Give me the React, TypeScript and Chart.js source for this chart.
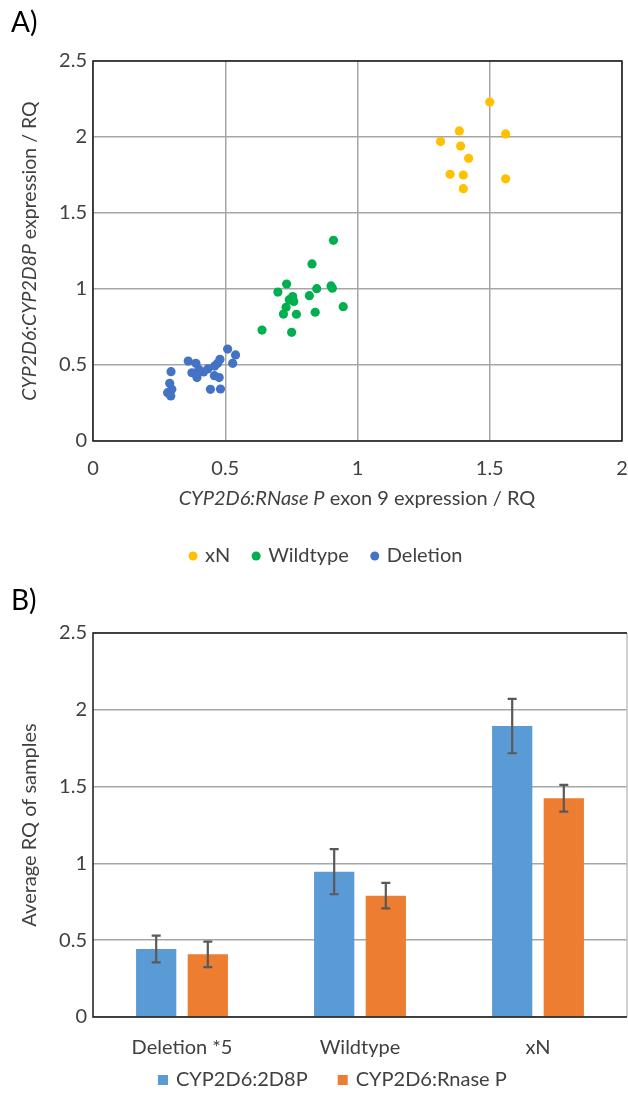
import React, { useEffect, useRef } from "react";
import { Chart, registerables } from "chart.js";

Chart.register(...registerables);

const FONT = "Lato, 'Noto Sans', sans-serif";
const TEXT = "#404040";

// ---- Panel A: scatter data ----
const xnX = [1.5, 1.385, 1.56, 1.314, 1.39, 1.42, 1.35, 1.4, 1.56, 1.4];
const xnY = [2.23, 2.04, 2.02, 1.97, 1.94, 1.86, 1.755, 1.75, 1.725, 1.66];

const wtX = [0.909, 0.828, 0.732, 0.699, 0.846, 0.9, 0.905, 0.818, 0.755, 0.742, 0.759, 0.73, 0.72, 0.769, 0.84, 0.946, 0.639, 0.751];
const wtY = [1.32, 1.165, 1.033, 0.98, 1.002, 1.02, 1.005, 0.956, 0.95, 0.93, 0.917, 0.88, 0.835, 0.834, 0.847, 0.884, 0.73, 0.715];

const delX = [0.509, 0.539, 0.48, 0.528, 0.36, 0.389, 0.471, 0.46, 0.434, 0.418, 0.4, 0.374, 0.393, 0.295, 0.459, 0.477, 0.29, 0.298, 0.282, 0.294, 0.444, 0.482];
const delY = [0.605, 0.566, 0.537, 0.511, 0.526, 0.511, 0.511, 0.493, 0.474, 0.454, 0.471, 0.449, 0.417, 0.456, 0.43, 0.417, 0.38, 0.34, 0.318, 0.296, 0.34, 0.342];

const scatterSeries = ["xN", "Wildtype", "Deletion"];
const scatterColors = ["#FFC000", "#00B050", "#4472C4"];

const yTitleA: [string, boolean][] = [["CYP2D6:CYP2D8P", true], [" expression / RQ", false]];
const xTitleA: [string, boolean][] = [["CYP2D6:RNase P", true], [" exon 9 expression / RQ", false]];

// ---- Panel B: bar data ----
const barCategories = ["Deletion *5", "Wildtype", "xN"];
const barSeries = ["CYP2D6:2D8P", "CYP2D6:Rnase P"];
const vals2D8P = [0.443, 0.946, 1.894];
const err2D8P = [0.087, 0.147, 0.177];
const valsRnase = [0.408, 0.79, 1.424];
const errRnase = [0.083, 0.083, 0.087];
const barColors = ["#5B9BD5", "#ED7D31"];
const yTitleB: [string, boolean][] = [["Average RQ of samples", false]];

const toPoints = (xs: number[], ys: number[]) => xs.map((x, i) => ({ x, y: ys[i] }));
const fmt = (v: any) => String(Number(v));

function drawMixed(ctx: CanvasRenderingContext2D, parts: [string, boolean][], cx: number, cy: number, rotate: boolean, size: number) {
  ctx.save();
  ctx.translate(cx, cy);
  if (rotate) ctx.rotate(-Math.PI / 2);
  const widths = parts.map(([t, it]) => {
    ctx.font = `${it ? "italic " : ""}${size}px ${FONT}`;
    return ctx.measureText(t).width;
  });
  const total = widths.reduce((a, b) => a + b, 0);
  let x = -total / 2;
  ctx.textBaseline = "middle";
  ctx.textAlign = "left";
  ctx.fillStyle = TEXT;
  parts.forEach(([t, it], i) => {
    ctx.font = `${it ? "italic " : ""}${size}px ${FONT}`;
    ctx.fillText(t, x, 0);
    x += widths[i];
  });
  ctx.restore();
}

function drawLegend(ctx: CanvasRenderingContext2D, labels: string[], colors: string[], startX: number, cy: number, shape: "dot" | "square", gapMarker: number, gapItem: number, size: number) {
  ctx.save();
  ctx.font = `${size}px ${FONT}`;
  ctx.textBaseline = "middle";
  ctx.textAlign = "left";
  let x = startX;
  labels.forEach((l, i) => {
    ctx.fillStyle = colors[i];
    if (shape === "dot") {
      ctx.beginPath();
      ctx.arc(x + 4, cy, 4.5, 0, Math.PI * 2);
      ctx.fill();
      x += 8;
    } else {
      ctx.fillRect(x, cy - 5, 10, 10);
      x += 10;
    }
    x += gapMarker;
    ctx.fillStyle = TEXT;
    ctx.fillText(l, x, cy);
    x += ctx.measureText(l).width + gapItem;
  });
  ctx.restore();
}

function ScatterPanel() {
  const ref = useRef<HTMLCanvasElement>(null);
  useEffect(() => {
    const deco = {
      id: "decoA",
      afterDraw(chart: any) {
        const { ctx, chartArea: a } = chart;
        ctx.save();
        ctx.strokeStyle = "#1a1a1a";
        ctx.lineWidth = 1.5;
        ctx.strokeRect(a.left, a.top, a.right - a.left, a.bottom - a.top);
        ctx.fillStyle = "#000";
        ctx.font = `28px ${FONT}`;
        ctx.textBaseline = "middle";
        ctx.textAlign = "left";
        ctx.fillText("A)", 11, 23);
        ctx.restore();
        drawMixed(ctx, yTitleA, 30, (a.top + a.bottom) / 2, true, 19.5);
        drawMixed(ctx, xTitleA, 357, 499, false, 20);
        drawLegend(ctx, scatterSeries, scatterColors, 189, 556, "dot", 8, 22, 20);
      },
    };
    const chart = new Chart(ref.current!, {
      type: "scatter",
      data: {
        datasets: [
          { label: scatterSeries[0], data: toPoints(xnX, xnY), backgroundColor: scatterColors[0], pointRadius: 4.6, borderWidth: 0 },
          { label: scatterSeries[1], data: toPoints(wtX, wtY), backgroundColor: scatterColors[1], pointRadius: 4.6, borderWidth: 0 },
          { label: scatterSeries[2], data: toPoints(delX, delY), backgroundColor: scatterColors[2], pointRadius: 4.6, borderWidth: 0 },
        ],
      },
      options: {
        animation: false,
        responsive: false,
        layout: { padding: { top: 61, right: 6, left: 0, bottom: 0 } },
        plugins: { legend: { display: false }, tooltip: { enabled: false } },
        scales: {
          x: {
            type: "linear",
            min: 0,
            max: 2,
            ticks: { stepSize: 0.5, padding: 0, color: TEXT, font: { family: FONT, size: 20 }, callback: fmt },
            grid: { color: "#A6A6A6", lineWidth: 1.5, drawTicks: true, tickLength: 16, tickColor: "rgba(0,0,0,0)" },
            border: { display: false },
            afterFit: (s: any) => { s.height = 139; },
          },
          y: {
            min: 0,
            max: 2.5,
            ticks: { stepSize: 0.5, padding: 6, color: TEXT, font: { family: FONT, size: 20 }, callback: fmt },
            grid: { color: "#A6A6A6", lineWidth: 1.5, drawTicks: false },
            border: { display: false },
            afterFit: (s: any) => { s.width = 93; },
          },
        },
      },
      plugins: [deco],
    } as any);
    return () => chart.destroy();
  }, []);
  return <canvas ref={ref} width={628} height={580} style={{ position: "absolute", left: 0, top: 0, width: 628, height: 580 }} />;
}

function BarPanel() {
  const ref = useRef<HTMLCanvasElement>(null);
  useEffect(() => {
    const errs = [err2D8P, errRnase];
    const deco = {
      id: "decoB",
      afterDatasetsDraw(chart: any) {
        const { ctx } = chart;
        const ys = chart.scales.y;
        ctx.save();
        ctx.strokeStyle = "#595959";
        ctx.lineWidth = 2.2;
        chart.data.datasets.forEach((ds: any, di: number) => {
          const meta = chart.getDatasetMeta(di);
          meta.data.forEach((el: any, i: number) => {
            const v = ds.data[i];
            const e = errs[di][i];
            const x = el.x;
            const yt = ys.getPixelForValue(v + e);
            const yb = ys.getPixelForValue(v - e);
            ctx.beginPath();
            ctx.moveTo(x, yt);
            ctx.lineTo(x, yb);
            ctx.moveTo(x - 4.5, yt);
            ctx.lineTo(x + 4.5, yt);
            ctx.moveTo(x - 4.5, yb);
            ctx.lineTo(x + 4.5, yb);
            ctx.stroke();
          });
        });
        ctx.restore();
      },
      afterDraw(chart: any) {
        const { ctx, chartArea: a } = chart;
        ctx.save();
        ctx.lineWidth = 1.5;
        ctx.strokeStyle = "#BFBFBF";
        ctx.beginPath();
        ctx.moveTo(a.right, a.top);
        ctx.lineTo(a.right, a.bottom);
        ctx.stroke();
        ctx.strokeStyle = "#1a1a1a";
        ctx.beginPath();
        ctx.moveTo(a.right, a.top);
        ctx.lineTo(a.left, a.top);
        ctx.lineTo(a.left, a.bottom);
        ctx.lineTo(a.right, a.bottom);
        ctx.stroke();
        ctx.fillStyle = "#000";
        ctx.font = `28px ${FONT}`;
        ctx.textBaseline = "middle";
        ctx.textAlign = "left";
        ctx.fillText("B)", 11, 21);
        ctx.restore();
        drawMixed(ctx, yTitleB, 30, (a.top + a.bottom) / 2, true, 20);
        drawLegend(ctx, barSeries, barColors, 158, 500, "square", 8, 30, 20);
      },
    };
    const chart = new Chart(ref.current!, {
      type: "bar",
      data: {
        labels: barCategories,
        datasets: [
          { label: barSeries[0], data: vals2D8P, backgroundColor: barColors[0], categoryPercentage: 0.58, barPercentage: 0.78 },
          { label: barSeries[1], data: valsRnase, backgroundColor: barColors[1], categoryPercentage: 0.58, barPercentage: 0.78 },
        ],
      },
      options: {
        animation: false,
        responsive: false,
        layout: { padding: { top: 53, right: 1, left: 0, bottom: 0 } },
        plugins: { legend: { display: false }, tooltip: { enabled: false } },
        scales: {
          x: {
            ticks: { padding: 19, color: TEXT, font: { family: FONT, size: 20 } },
            grid: { display: false, drawTicks: false },
            border: { display: false },
            afterFit: (s: any) => { s.height = 80; },
          },
          y: {
            min: 0,
            max: 2.5,
            ticks: { stepSize: 0.5, padding: 6, color: TEXT, font: { family: FONT, size: 20 }, callback: fmt },
            grid: { color: "#A6A6A6", lineWidth: 1.5, drawTicks: false },
            border: { display: false },
            afterFit: (s: any) => { s.width = 93; },
          },
        },
      },
      plugins: [deco],
    } as any);
    return () => chart.destroy();
  }, []);
  return <canvas ref={ref} width={628} height={517} style={{ position: "absolute", left: 0, top: 580, width: 628, height: 517 }} />;
}

export default function App() {
  return (
    <div style={{ position: "absolute", left: 0, top: 0, width: 628, height: 1097, background: "#fff", overflow: "hidden" }}>
      <ScatterPanel />
      <BarPanel />
    </div>
  );
}
